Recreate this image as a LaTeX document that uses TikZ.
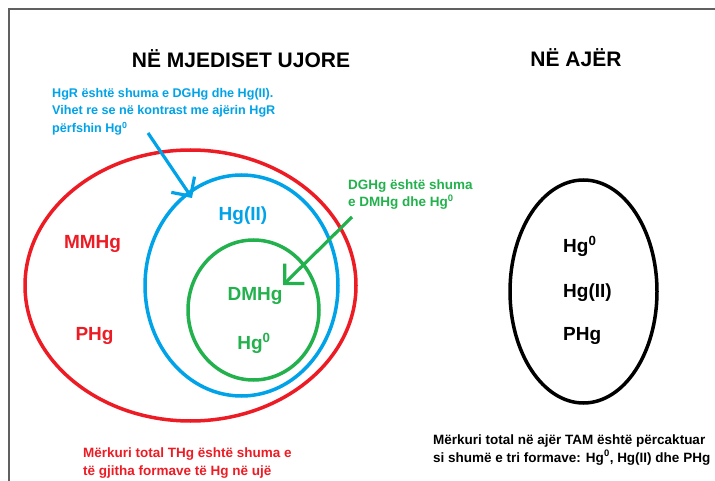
\documentclass[tikz,border=0pt]{standalone}
\usepackage{fontspec}
\setmainfont{Liberation Sans}
\usetikzlibrary{shapes.geometric,arrows.meta}
\definecolor{hgred}{RGB}{237,28,36}
\definecolor{hgblue}{RGB}{0,162,232}
\definecolor{hggreen}{RGB}{34,177,76}
\definecolor{framegray}{RGB}{96,96,96}
\tikzset{
  ring/.style={ellipse,draw,line width=3.5pt,inner sep=0pt},
  heading/.style={font=\bfseries\fontsize{21}{24}\selectfont,anchor=base,inner sep=0pt},
  form/.style={font=\bfseries\fontsize{19}{21}\selectfont,anchor=base,inner sep=0pt},
  note/.style={font=\bfseries\fontsize{#1}{17.5}\selectfont,align=left,anchor=base west,inner sep=0pt},
  note/.default=13.5,
  pointer/.style={line width=3.2pt,-{Straight Barb[length=14pt,width=28pt]}}
}
\begin{document}
\begin{tikzpicture}
      [x=1pt,y=-1pt]
      \useasboundingbox (0,0) rectangle (715,481);
      \draw[framegray,line width=2pt] (715,9) -- (8.5,9) -- (8.5,481);

      % titles
      \node[heading] (water) at (241,67.5) {NË MJEDISET UJORE};
      \node[heading] (air) at (576,66.5) {NË AJËR};

      % water: THg > HgR > DGHg
      \node[ring,hgred,minimum width=331pt,minimum height=271pt] (thg) at (190.5,285.5) {};
      \node[ring,hgblue,minimum width=193pt,minimum height=221pt] (hgr) at (241.5,285.5) {};
      \node[ring,hggreen,minimum width=131pt,minimum height=140pt] (dghg) at (253.5,310) {};

      \node[form,hgred] (mmhg) at (92.5,249) {MMHg};
      \node[form,hgred] (phg) at (94.5,340) {PHg};
      \node[form,hgblue] (hgii) at (243,221) {Hg(II)};
      \node[form,hggreen] (dmhg) at (255,300) {DMHg};
      \node[form,hggreen] (hgzero) at (254,349) {Hg\textsuperscript{0}};

      % base anchor sits on the last line
      \node[note=12.6,hgblue] (hgrnote) at (52,132.5)
        {HgR është shuma e DGHg dhe Hg(II).\\Vihet re se në kontrast me ajërin HgR\\përfshin Hg\textsuperscript{0}};
      \node[note,hggreen] (dghgnote) at (348,207)
        {DGHg është shuma\\e DMHg dhe Hg\textsuperscript{0}};
      \node[note,hgred] (thgnote) at (83,475)
        {Mërkuri total THg është shuma e\\të gjitha formave të Hg në ujë};

      \coordinate (hgrfrom) at (148,133);
      \coordinate (hgrto) at (192,198);
      \coordinate (dghgfrom) at (352,217);
      \coordinate (dghgto) at (283,285);
      \draw[pointer,hgblue] (hgrfrom) -- (hgrto);
      \draw[pointer,hggreen] (dghgfrom) -- (dghgto);

      % air: TAM
      \node[ring,black,minimum width=147pt,minimum height=223pt] (tam) at (583.5,291.5) {};
      \foreach \n/\txt/\y in {a/{Hg\textsuperscript{0}}/252, b/{Hg(II)}/297, c/{PHg}/340} {
        \node[form,anchor=base west] (tam\n) at (563,\y) {\txt};
      }
      \node[note] (tamnote) at (433,462)
        {Mërkuri total në ajër TAM është përcaktuar\\si shumë e tri formave: Hg\textsuperscript{0}, Hg(II) dhe PHg};
    \end{tikzpicture}
\end{document}
